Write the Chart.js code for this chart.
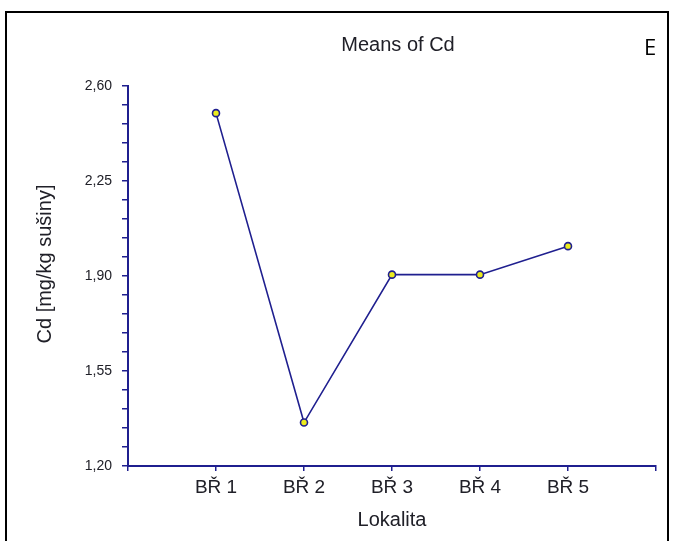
<!DOCTYPE html>
<html>
<head>
<meta charset="utf-8">
<title>Means of Cd</title>
<script src="https://cdn.jsdelivr.net/npm/chart.js@4/dist/chart.umd.min.js"></script>
<style>
  html, body { margin: 0; padding: 0; background: #ffffff; }
  #wrap { width: 675px; height: 541px; }
</style>
</head>
<body>
<div id="wrap"><canvas id="chart" width="675" height="541"></canvas></div>
<script>
// Sampling sites and mean Cd content per site
const categories = ['BŘ 1', 'BŘ 2', 'BŘ 3', 'BŘ 4', 'BŘ 5'];
const cdMeans = [2.50, 1.36, 1.905, 1.905, 2.01];

// Y axis: labelled major ticks, with four unlabelled minor ticks between them
const yMajorValues = [1.20, 1.55, 1.90, 2.25, 2.60];
const yMajorLabels = ['1,20', '1,55', '1,90', '2,25', '2,60'];
const yMinorPerMajor = 5;

const chartTitle = 'Means of Cd';
const panelLetter = 'E';
const yAxisTitle = 'Cd [mg/kg sušiny]';
const xAxisTitle = 'Lokalita';

const NAVY = '#1f1f8f';
const TEXT = '#202028';
const FONT = '"Liberation Sans", Arial, sans-serif';

const yTickValues = [];
for (let i = 0; i < yMajorValues.length - 1; i++) {
  const a = yMajorValues[i], b = yMajorValues[i + 1];
  for (let k = 0; k < yMinorPerMajor; k++) {
    yTickValues.push(+(a + (b - a) * k / yMinorPerMajor).toFixed(4));
  }
}
yTickValues.push(yMajorValues[yMajorValues.length - 1]);

// Frame, title, panel letter and rotated y-axis title
const decorations = {
  id: 'decorations',
  afterDraw(chart) {
    const ctx = chart.ctx;
    ctx.save();
    ctx.strokeStyle = '#000000';
    ctx.lineWidth = 2;
    ctx.strokeRect(6, 12, 662, 540);

    ctx.fillStyle = TEXT;
    ctx.textAlign = 'center';
    ctx.textBaseline = 'middle';
    ctx.font = '20px ' + FONT;
    ctx.fillText(chartTitle, 398, 45);

    ctx.fillStyle = '#000000';
    ctx.font = '22px "Open Sans", "Liberation Sans", sans-serif';
    ctx.fillText(panelLetter, 650, 49);

    ctx.fillStyle = TEXT;
    ctx.font = '20px ' + FONT;
    ctx.translate(45, 264);
    ctx.rotate(-Math.PI / 2);
    ctx.fillText(yAxisTitle, 0, 0);
    ctx.restore();
  }
};

new Chart(document.getElementById('chart'), {
  type: 'line',
  data: {
    datasets: [{
      data: cdMeans.map((v, i) => ({ x: i + 1, y: v })),
      borderColor: NAVY,
      borderWidth: 1.6,
      pointRadius: 3.5,
      pointHoverRadius: 3.5,
      pointBackgroundColor: '#ecec1e',
      pointBorderColor: NAVY,
      pointBorderWidth: 1.6,
      tension: 0,
      fill: false
    }]
  },
  options: {
    responsive: false,
    animation: false,
    events: [],
    layout: { padding: { top: 86, right: 19, left: 0, bottom: 0 } },
    plugins: {
      legend: { display: false },
      title: { display: false },
      tooltip: { enabled: false }
    },
    scales: {
      x: {
        type: 'linear',
        min: 0,
        max: categories.length + 1,
        afterFit(s) { s.height = 75; },
        afterBuildTicks(s) {
          const t = [];
          for (let v = 0; v <= categories.length + 1; v++) t.push({ value: v });
          s.ticks = t;
        },
        border: { display: true, color: NAVY, width: 2 },
        grid: {
          drawOnChartArea: false,
          drawTicks: true,
          tickLength: 5,
          color: NAVY,
          lineWidth: 1.5
        },
        ticks: {
          autoSkip: false,
          maxRotation: 0,
          padding: 5,
          color: TEXT,
          font: { family: FONT, size: 19 },
          callback(value) { return categories[value - 1] || ''; }
        },
        title: {
          display: true,
          text: xAxisTitle,
          color: TEXT,
          font: { family: FONT, size: 20 },
          padding: { top: 0, bottom: 9 }
        }
      },
      y: {
        type: 'linear',
        min: yMajorValues[0],
        max: yMajorValues[yMajorValues.length - 1],
        afterFit(s) { s.width = 128; },
        afterBuildTicks(s) { s.ticks = yTickValues.map(v => ({ value: v })); },
        border: { display: true, color: NAVY, width: 2 },
        grid: {
          drawOnChartArea: false,
          drawTicks: true,
          tickLength: 6,
          color: NAVY,
          lineWidth: 1.5
        },
        ticks: {
          autoSkip: false,
          padding: 10,
          color: TEXT,
          font: { family: FONT, size: 14 },
          callback(value) {
            const i = yMajorValues.findIndex(m => Math.abs(m - value) < 1e-6);
            return i >= 0 ? yMajorLabels[i] : '';
          }
        }
      }
    }
  },
  plugins: [decorations]
});
</script>
</body>
</html>
